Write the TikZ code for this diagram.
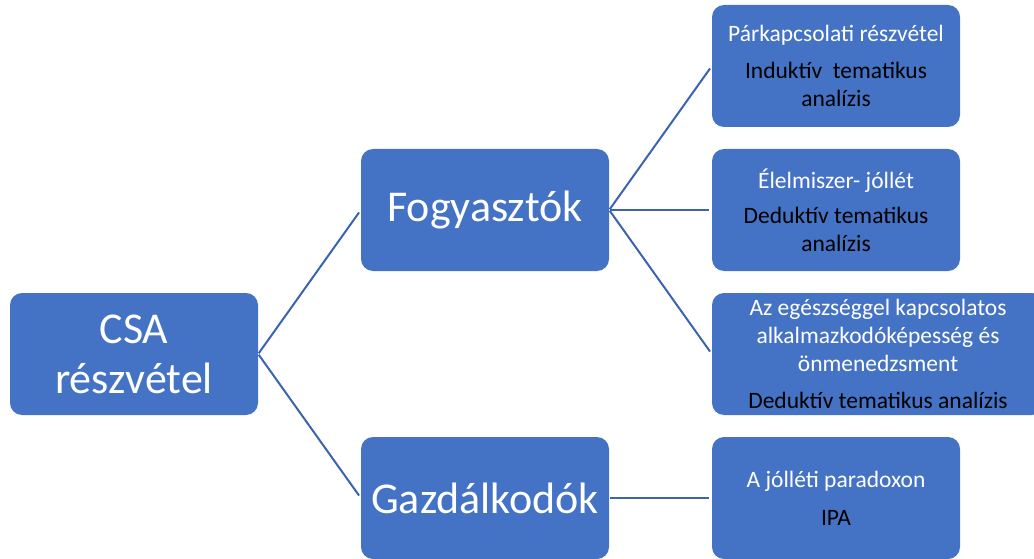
\documentclass[tikz,border=0pt]{standalone}
\usepackage{fontspec}
\setmainfont{Carlito}
\definecolor{boxblue}{HTML}{4472C4}
\definecolor{lineblue}{HTML}{3B63B0}
\tikzset{
  bigbox/.style={fill=boxblue, rounded corners=12pt, minimum width=248pt, minimum height=122pt, align=center, text=white, font=\fontsize{44}{50}\selectfont},
  smallbox/.style={fill=boxblue, rounded corners=12pt, minimum width=248pt, minimum height=122pt, align=center, text=white, font=\fontsize{23.5}{28}\selectfont},
  branch/.style={draw=lineblue, line width=2pt, shorten <=1pt, shorten >=3pt}
}
\begin{document}
\begin{tikzpicture}[x=1pt, y=-1pt]
  \useasboundingbox (0,0) rectangle (1034,559);
  \clip (0,0) rectangle (1034,559);

  % Gyökér
  \node[bigbox] (csa) at (134,354) {CSA\\részvétel};

  % Második szint
  \node[bigbox] (fogyasztok) at (485,210) {Fogyasztók};
  \node[bigbox] (gazdalkodok) at (485,498) {Gazdálkodók};

  % Harmadik szint
  \node[smallbox] (parkapcsolat) at (836,66) {
    Párkapcsolati részvétel\\[9pt]
    \textcolor{black}{Induktív \ tematikus}\\
    \textcolor{black}{analízis}
  };
  \node[smallbox] (elelmiszer) at (836,210) {
    Élelmiszer- jóllét\\[7pt]
    \textcolor{black}{Deduktív tematikus}\\
    \textcolor{black}{analízis}
  };
  \node[smallbox, minimum width=332pt] (egeszseg) at (878,354) {
    Az egészséggel kapcsolatos\\
    alkalmazkodóképesség és\\
    önmenedzsment\\[9pt]
    \textcolor{black}{Deduktív tematikus analízis}
  };
  \node[smallbox] (jolleti) at (836,498) {
    A jólléti paradoxon\\[10pt]
    \textcolor{black}{IPA}
  };

  % Összekötők
  \draw[branch] (csa.east) -- (fogyasztok.west);
  \draw[branch] (csa.east) -- (gazdalkodok.west);
  \draw[branch] (fogyasztok.east) -- (parkapcsolat.west);
  \draw[branch] (fogyasztok.east) -- (elelmiszer.west);
  \draw[branch] (fogyasztok.east) -- (egeszseg.west);
  \draw[branch] (gazdalkodok.east) -- (jolleti.west);
\end{tikzpicture}
\end{document}
